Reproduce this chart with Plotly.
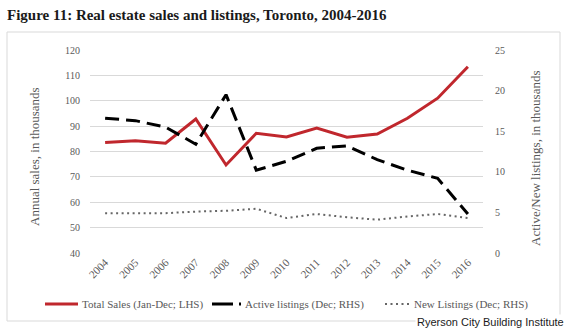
import plotly.graph_objects as go

# Toronto real estate, 2004-2016
years = [str(y) for y in range(2004, 2017)]
total_sales = [83.5, 84.2, 83.3, 92.8, 74.7, 87.2, 85.7, 89.2, 85.6, 86.9, 93.1, 101.0, 113.4]
active_listings = [16.6, 16.3, 15.5, 13.4, 19.5, 10.2, 11.3, 12.9, 13.2, 11.5, 10.2, 9.2, 4.8]
new_listings = [4.9, 4.9, 4.9, 5.1, 5.2, 5.45, 4.3, 4.8, 4.4, 4.1, 4.5, 4.8, 4.3]
series_names = ["Total Sales (Jan-Dec; LHS)", "Active listings (Dec; RHS)",
                "New Listings (Dec; RHS)"]

SERIF = "Georgia, 'Liberation Serif', 'Times New Roman', serif"
GREY = "#595959"
RED = "#c0272d"
styles = [
    dict(color=RED, width=3),
    dict(color="#000000", width=3, dash="14px,7px"),
    dict(color="#666666", width=2, dash="2px,3.5px"),
]

fig = go.Figure()
fig.add_trace(go.Scatter(x=years, y=total_sales, mode="lines", name=series_names[0],
                         line=styles[0], yaxis="y"))
fig.add_trace(go.Scatter(x=years, y=active_listings, mode="lines", name=series_names[1],
                         line=styles[1], yaxis="y2"))
fig.add_trace(go.Scatter(x=years, y=new_listings, mode="lines", name=series_names[2],
                         line=styles[2], yaxis="y2"))

# plot area: x 90..483 px, y 50..253 px
L, R, T, B = 90, 87, 50, 77
W, H = 570, 330
pw, ph = W - L - R, H - T - B

def px_x(p):
    return (p - L) / pw

def px_y(p):
    return (H - B - p) / ph

# frame around the chart
shapes = [dict(type="rect", xref="paper", yref="paper",
               x0=px_x(7), x1=px_x(560), y0=px_y(321), y1=px_y(32),
               line=dict(color="#d9d9d9", width=1), layer="below")]
annotations = []

# legend row under the axis: key line spans and text start, in pixels
LEG_Y = 304
key_spans = [(45, 78), (212, 241), (385, 409)]
key_dash = [None, "21px,6px", "2px,3.5px"]
text_x = [80, 243, 412]
for name, st, (a, b), dash, tx in zip(series_names, styles, key_spans, key_dash, text_x):
    line = dict(color=st["color"], width=st["width"])
    if dash:
        line["dash"] = dash
    shapes.append(dict(type="line", xref="paper", yref="paper",
                       x0=px_x(a), x1=px_x(b), y0=px_y(LEG_Y), y1=px_y(LEG_Y),
                       line=line))
    annotations.append(dict(text=name, xref="paper", yref="paper",
                            x=px_x(tx), y=px_y(LEG_Y), xanchor="left", yanchor="middle",
                            showarrow=False,
                            font=dict(family=SERIF, size=11, color=GREY)))

annotations += [
    dict(text="Annual sales, in thousands", xref="paper", yref="paper",
         x=px_x(34), y=px_y(157), xanchor="center", yanchor="middle",
         textangle=-90, showarrow=False,
         font=dict(family=SERIF, size=13, color=GREY)),
    dict(text="Active/New listings, in thousands", xref="paper", yref="paper",
         x=px_x(535), y=px_y(158), xanchor="center", yanchor="middle",
         textangle=-90, showarrow=False,
         font=dict(family=SERIF, size=13, color=GREY)),
    dict(text="Ryerson City Building Institute", xref="paper", yref="paper",
         x=px_x(566), y=px_y(322), xanchor="right", yanchor="middle",
         showarrow=False, bgcolor="white",
         font=dict(family="'Liberation Sans', Arial, sans-serif", size=11,
                   color="#1a1a1a")),
]

fig.update_layout(
    width=W, height=H,
    margin=dict(l=L, r=R, t=T, b=B, autoexpand=False),
    paper_bgcolor="white", plot_bgcolor="white",
    title=dict(text="<b>Figure 11: Real estate sales and listings, Toronto, 2004-2016</b>",
               x=7 / W, xanchor="left", y=1 - 15 / H, yanchor="middle",
               font=dict(family=SERIF, size=15, color="#1a1a1a")),
    xaxis=dict(type="category", range=[-0.5, 12.5], tickangle=-45,
               tickfont=dict(family=SERIF, size=11, color=GREY),
               showgrid=False, showline=False, ticks=""),
    yaxis=dict(range=[40, 120], dtick=10, tick0=40,
               tickfont=dict(family=SERIF, size=10, color=GREY),
               ticklabelstandoff=9,
               gridcolor="#d9d9d9", gridwidth=1, zeroline=False),
    yaxis2=dict(range=[0, 25], dtick=5, tick0=0, overlaying="y", side="right",
                tickfont=dict(family=SERIF, size=10, color=GREY),
                ticklabelstandoff=11,
                showgrid=False, zeroline=False),
    showlegend=False,
    shapes=shapes,
    annotations=annotations,
)

fig.write_html("out.html")
